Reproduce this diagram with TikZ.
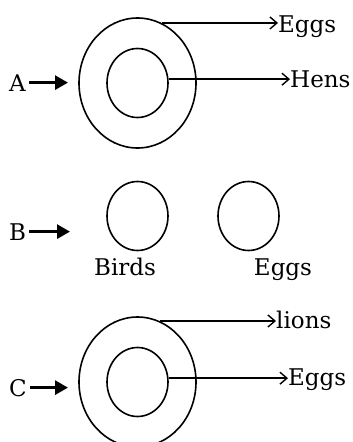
\documentclass[tikz,border=0pt]{standalone}
\usepackage{fontspec}
\setmainfont{DejaVu Serif}
\usetikzlibrary{shapes.geometric,arrows.meta}
\begin{document}
\begin{tikzpicture}[x=1pt,y=-1pt,
  ring/.style={draw, ellipse, inner sep=0pt, line width=1.6pt},
  big/.style={ring, minimum width=117pt, minimum height=130pt},
  small/.style={ring, minimum width=61pt, minimum height=69pt},
  txt/.style={inner sep=0pt, font=\fontsize{23}{27}\selectfont, anchor=base west},
  conn/.style={line width=1.4pt, -{Straight Barb[length=7pt,width=12pt,line width=1.4pt]}},
  lab/.style={line width=2.8pt, -{Triangle[length=13pt,width=14pt]}}]
\useasboundingbox (0,0) rectangle (353,442);
\clip (0,0) rectangle (353,442);
% A
\node[big] (oA) at (137.5,83) {};
\node[small] (iA) at (137.5,83) {};
\node[txt] (eA) at (278,32) {Eggs};
\node[txt] (hA) at (290,87) {Hens};
\node[txt] (lA) at (9,91) {A};
\coordinate (tA) at (68,83);
\draw[conn] (oA.68) -- (oA.68 -| eA.west);
\draw[conn] (iA.7) -- (iA.7 -| hA.west);
\draw[lab, shorten <=3pt] (lA.east) -- (lA.east -| tA);
% B
\node[small] (bA) at (137.5,216) {};
\node[small] (bB) at (248.5,216) {};
\node[txt, anchor=base] (tb) at (125,275) {Birds};
\node[txt, anchor=base] (te) at (283,275) {Eggs};
\node[txt] (lB) at (9,240) {B};
\coordinate (tB) at (70,230);
\draw[lab, shorten <=3pt] (lB.east) -- (lB.east -| tB);
% C
\node[big] (oC) at (137.5,382) {};
\node[small] (iC) at (137.5,382) {};
\node[txt] (eC) at (276,328) {lions};
\node[txt] (hC) at (288,385) {Eggs};
\node[txt] (lC) at (9,396) {C};
\coordinate (tC) at (68,389);
\draw[conn] (oC.70) -- (oC.70 -| eC.west);
\draw[conn] (iC.7) -- (iC.7 -| hC.west);
\draw[lab, shorten <=3pt] (lC.east) -- (lC.east -| tC);
\end{tikzpicture}
\end{document}
